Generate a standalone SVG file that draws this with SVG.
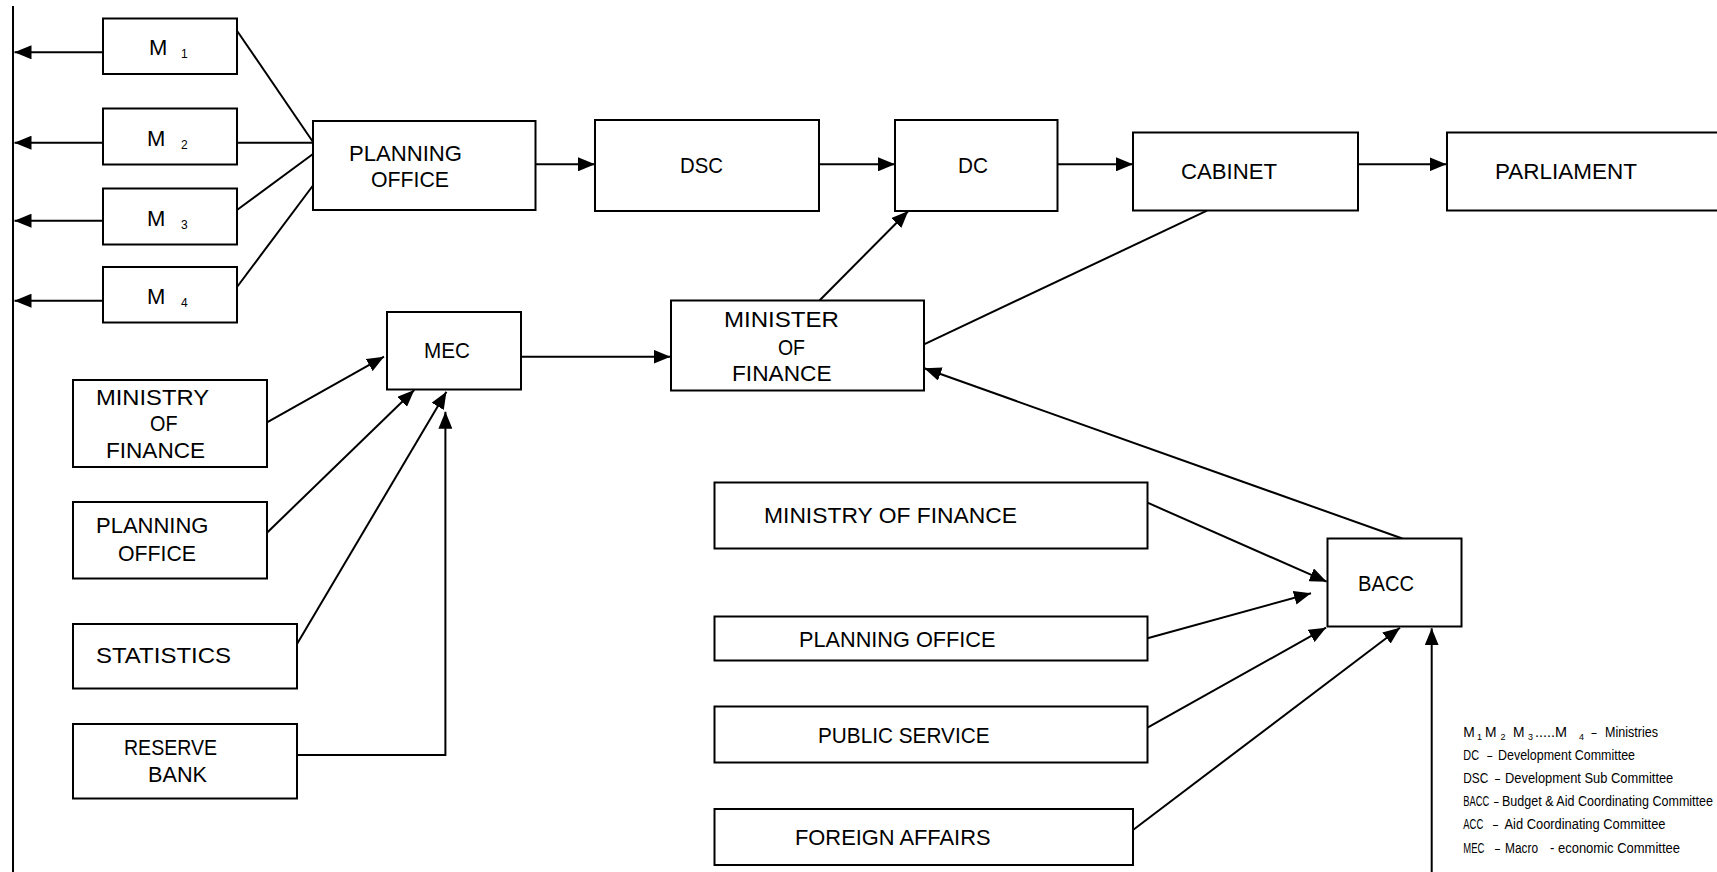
<svg xmlns="http://www.w3.org/2000/svg" width="1717" height="872" viewBox="0 0 1717 872">
<style>
.box{fill:#fff;stroke:#000;stroke-width:2}
.t{font-family:"Liberation Sans",Arial,sans-serif;font-size:22px;fill:#000}
.s{font-family:"Liberation Sans",Arial,sans-serif;font-size:12px;fill:#000}
.lg{font-family:"Liberation Sans",Arial,sans-serif;font-size:14px;fill:#000}
.lgs{font-family:"Liberation Sans",Arial,sans-serif;font-size:9px;fill:#000}
.c{stroke:#000;stroke-width:2;fill:none}
.a{marker-end:url(#ah)}
</style>
<defs>
<marker id="ah" markerUnits="userSpaceOnUse" markerWidth="17" markerHeight="14" refX="17" refY="7" orient="auto">
<path d="M0,0 L17,7 L0,14 z" fill="#000"/>
</marker>
</defs>
<rect width="1717" height="872" fill="#fff"/>
<g id="connectors">
<line class="c" x1="13" y1="6" x2="13" y2="872"/>
<line class="c a" x1="103" y1="52.3" x2="14.5" y2="52.3"/>
<line class="c a" x1="103" y1="142.7" x2="14.5" y2="142.7"/>
<line class="c a" x1="103" y1="220.7" x2="14.5" y2="220.7"/>
<line class="c a" x1="103" y1="300.7" x2="14.5" y2="300.7"/>
<line class="c" x1="237" y1="30.7" x2="313" y2="142"/>
<line class="c" x1="237" y1="142.7" x2="313" y2="142.7"/>
<line class="c" x1="237" y1="210" x2="313" y2="154"/>
<line class="c" x1="237" y1="287" x2="313" y2="185.5"/>
<line class="c a" x1="535.5" y1="164.3" x2="595" y2="164.3"/>
<line class="c a" x1="819" y1="164.3" x2="895" y2="164.3"/>
<line class="c a" x1="1057.5" y1="164.3" x2="1133" y2="164.3"/>
<line class="c a" x1="1358" y1="164.3" x2="1446.5" y2="164.3"/>
<line class="c a" x1="819.5" y1="300.5" x2="908.3" y2="211"/>
<line class="c" x1="924" y1="344.3" x2="1207" y2="210.7"/>
<line class="c a" x1="521" y1="356.7" x2="670.5" y2="356.7"/>
<line class="c a" x1="267" y1="422.3" x2="384" y2="356.7"/>
<line class="c a" x1="267" y1="532.7" x2="414.3" y2="390"/>
<line class="c a" x1="297" y1="644" x2="446.4" y2="391.7"/>
<polyline class="c a" points="297,755 445.4,755 445.4,411.7"/>
<line class="c a" x1="1402.3" y1="538.5" x2="924.3" y2="368.3"/>
<line class="c a" x1="1147.5" y1="502.7" x2="1326.7" y2="581.7"/>
<line class="c a" x1="1147.5" y1="638.3" x2="1311" y2="593.3"/>
<line class="c a" x1="1147.5" y1="727.7" x2="1326" y2="627.7"/>
<line class="c a" x1="1133" y1="830" x2="1400" y2="627.7"/>
<line class="c a" x1="1431.7" y1="872" x2="1431.7" y2="628.3"/>
</g>
<g id="m1"><rect class="box" x="103" y="18.5" width="134" height="55.5"/><text class="t" x="149" y="55">M</text><text class="s" x="181" y="58">1</text></g>
<g id="m2"><rect class="box" x="103" y="108.5" width="134" height="56"/><text class="t" x="147" y="146">M</text><text class="s" x="181" y="149">2</text></g>
<g id="m3"><rect class="box" x="103" y="188.5" width="134" height="56"/><text class="t" x="147" y="226">M</text><text class="s" x="181" y="229">3</text></g>
<g id="m4"><rect class="box" x="103" y="267" width="134" height="55.5"/><text class="t" x="147" y="304">M</text><text class="s" x="181" y="307">4</text></g>
<g id="planning-office"><rect class="box" x="313" y="121" width="222.5" height="89"/><text class="t" x="349" y="161" textLength="113" lengthAdjust="spacingAndGlyphs">PLANNING</text><text class="t" x="371" y="187" textLength="78" lengthAdjust="spacingAndGlyphs">OFFICE</text></g>
<g id="dsc"><rect class="box" x="595" y="120" width="224" height="91"/><text class="t" x="680" y="173" textLength="43" lengthAdjust="spacingAndGlyphs">DSC</text></g>
<g id="dc"><rect class="box" x="895" y="120" width="162.5" height="91"/><text class="t" x="958" y="173" textLength="30" lengthAdjust="spacingAndGlyphs">DC</text></g>
<g id="cabinet"><rect class="box" x="1133" y="132.5" width="225" height="78"/><text class="t" x="1181" y="179" textLength="96" lengthAdjust="spacingAndGlyphs">CABINET</text></g>
<g id="parliament"><rect class="box" x="1447" y="132.5" width="290" height="78"/><text class="t" x="1495" y="179" textLength="142" lengthAdjust="spacingAndGlyphs">PARLIAMENT</text></g>
<g id="mec"><rect class="box" x="387" y="312" width="134" height="77.5"/><text class="t" x="424" y="358" textLength="46" lengthAdjust="spacingAndGlyphs">MEC</text></g>
<g id="minister-of-finance"><rect class="box" x="671" y="300.5" width="253" height="90"/><text class="t" x="724" y="327" textLength="115" lengthAdjust="spacingAndGlyphs">MINISTER</text><text class="t" x="778" y="355" textLength="27" lengthAdjust="spacingAndGlyphs">OF</text><text class="t" x="732" y="381" textLength="99.5" lengthAdjust="spacingAndGlyphs">FINANCE</text></g>
<g id="ministry-of-finance-left"><rect class="box" x="73" y="380" width="194" height="87"/><text class="t" x="96" y="405" textLength="113" lengthAdjust="spacingAndGlyphs">MINISTRY</text><text class="t" x="150" y="431" textLength="27.5" lengthAdjust="spacingAndGlyphs">OF</text><text class="t" x="106" y="458" textLength="99" lengthAdjust="spacingAndGlyphs">FINANCE</text></g>
<g id="planning-office-left"><rect class="box" x="73" y="502" width="194" height="76.5"/><text class="t" x="96" y="533" textLength="112.5" lengthAdjust="spacingAndGlyphs">PLANNING</text><text class="t" x="118" y="561" textLength="78" lengthAdjust="spacingAndGlyphs">OFFICE</text></g>
<g id="statistics"><rect class="box" x="73" y="624" width="224" height="64.5"/><text class="t" x="96" y="663" textLength="135" lengthAdjust="spacingAndGlyphs">STATISTICS</text></g>
<g id="reserve-bank"><rect class="box" x="73" y="724" width="224" height="74.5"/><text class="t" x="124" y="755" textLength="93" lengthAdjust="spacingAndGlyphs">RESERVE</text><text class="t" x="148" y="782" textLength="59" lengthAdjust="spacingAndGlyphs">BANK</text></g>
<g id="ministry-of-finance-bottom"><rect class="box" x="714.5" y="482.5" width="433" height="66"/><text class="t" x="764" y="523" textLength="253" lengthAdjust="spacingAndGlyphs">MINISTRY OF FINANCE</text></g>
<g id="planning-office-bottom"><rect class="box" x="714.5" y="616.5" width="433" height="44"/><text class="t" x="799" y="647" textLength="196.5" lengthAdjust="spacingAndGlyphs">PLANNING OFFICE</text></g>
<g id="public-service"><rect class="box" x="714.5" y="706.5" width="433" height="56"/><text class="t" x="818" y="743" textLength="171.5" lengthAdjust="spacingAndGlyphs">PUBLIC SERVICE</text></g>
<g id="foreign-affairs"><rect class="box" x="714.5" y="809" width="418.5" height="56"/><text class="t" x="795" y="845" textLength="195.5" lengthAdjust="spacingAndGlyphs">FOREIGN AFFAIRS</text></g>
<g id="bacc"><rect class="box" x="1327.5" y="538.5" width="134" height="88"/><text class="t" x="1358" y="591" textLength="56" lengthAdjust="spacingAndGlyphs">BACC</text></g>
<g id="legend">
<text class="lg" x="1463.3" y="736.7" textLength="11.5" lengthAdjust="spacingAndGlyphs">M</text>
<text class="lgs" x="1477" y="739.7">1</text>
<text class="lg" x="1485" y="736.7" textLength="11.5" lengthAdjust="spacingAndGlyphs">M</text>
<text class="lgs" x="1500.5" y="739.7">2</text>
<text class="lg" x="1513" y="736.7" textLength="11.5" lengthAdjust="spacingAndGlyphs">M</text>
<text class="lgs" x="1528" y="739.7">3</text>
<text class="lg" x="1535" y="736.7" textLength="32" lengthAdjust="spacingAndGlyphs">.....M</text>
<text class="lgs" x="1579" y="739.7">4</text>
<text class="lg" x="1591.5" y="736.7" textLength="5" lengthAdjust="spacingAndGlyphs">–</text>
<text class="lg" x="1605" y="736.7" textLength="53" lengthAdjust="spacingAndGlyphs">Ministries</text>
<text class="lg" x="1463.3" y="760" textLength="15.7" lengthAdjust="spacingAndGlyphs">DC</text>
<text class="lg" x="1487.3" y="760" textLength="5" lengthAdjust="spacingAndGlyphs">–</text>
<text class="lg" x="1498" y="760" textLength="137" lengthAdjust="spacingAndGlyphs">Development Committee</text>
<text class="lg" x="1463.3" y="783.3" textLength="25" lengthAdjust="spacingAndGlyphs">DSC</text>
<text class="lg" x="1495" y="783.3" textLength="5" lengthAdjust="spacingAndGlyphs">–</text>
<text class="lg" x="1505" y="783.3" textLength="168.3" lengthAdjust="spacingAndGlyphs">Development Sub Committee</text>
<text class="lg" x="1463.3" y="806" textLength="26" lengthAdjust="spacingAndGlyphs">BACC</text>
<text class="lg" x="1494" y="806" textLength="4.5" lengthAdjust="spacingAndGlyphs">–</text>
<text class="lg" x="1502" y="806" textLength="211" lengthAdjust="spacingAndGlyphs">Budget &amp; Aid Coordinating Committee</text>
<text class="lg" x="1463.3" y="829.3" textLength="20" lengthAdjust="spacingAndGlyphs">ACC</text>
<text class="lg" x="1493" y="829.3" textLength="5" lengthAdjust="spacingAndGlyphs">–</text>
<text class="lg" x="1504.5" y="829.3" textLength="161" lengthAdjust="spacingAndGlyphs">Aid Coordinating Committee</text>
<text class="lg" x="1463.3" y="852.7" textLength="21" lengthAdjust="spacingAndGlyphs">MEC</text>
<text class="lg" x="1495" y="852.7" textLength="5" lengthAdjust="spacingAndGlyphs">–</text>
<text class="lg" x="1505" y="852.7" textLength="33" lengthAdjust="spacingAndGlyphs">Macro</text>
<text class="lg" x="1550" y="852.7" textLength="130" lengthAdjust="spacingAndGlyphs">- economic Committee</text>
</g>
</svg>
